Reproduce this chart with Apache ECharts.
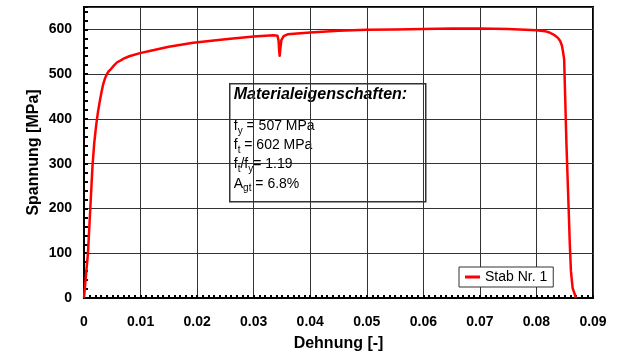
<!DOCTYPE html>
<html>
<head>
<meta charset="utf-8">
<script src="https://cdn.jsdelivr.net/npm/echarts@6/dist/echarts.min.js"></script>
<style>
  html, body { margin: 0; padding: 0; background: #fff; }
  #chart { width: 619px; height: 355px; }
</style>
</head>
<body>
<div id="chart"></div>
<script>
// Tensile test curve: strain [-] and stress [MPa]
const strain = [
  0, 0.0004, 0.0007, 0.0011, 0.0015, 0.0018, 0.0021, 0.0023, 0.0025, 0.0026,
  0.0028, 0.0031, 0.0034, 0.0037, 0.0039, 0.0041, 0.0044, 0.0048, 0.0052, 0.0058,
  0.0064, 0.0069, 0.0080, 0.0099, 0.012, 0.015, 0.0193, 0.025, 0.030, 0.0335,
  0.0342, 0.0344, 0.0345, 0.0346, 0.0347, 0.0349, 0.0353, 0.036, 0.040, 0.045,
  0.050, 0.055, 0.060, 0.065, 0.070, 0.075, 0.080, 0.0815, 0.0823, 0.0832,
  0.0838, 0.0842, 0.0845, 0.0847, 0.0849, 0.0853, 0.0857, 0.0859, 0.0861, 0.0864,
  0.0870
];
const stress = [
  0, 58, 100, 197, 294, 345, 380, 400, 418, 415,
  440, 460, 478, 490, 496, 501, 507, 512, 518, 526,
  530, 534, 540, 547, 553, 561, 570, 578, 584, 587,
  586, 575, 555, 541, 555, 576, 585, 589, 593, 597,
  599, 600, 601, 602, 602, 601, 598, 596, 593, 587,
  581, 574, 564, 550, 533, 346, 197, 120, 60, 22,
  0
];
const seriesName = 'Stab Nr. 1';

// Axis ticks
const xTicks = { min: 0, max: 0.09, step: 0.01, minorSplit: 10 };
const yTicks = { min: 0, max: 650, step: 100, minorStep: 20 };

// Material properties shown in the info box
const propTitle = 'Materialeigenschaften:';
const propLines = [
  '{n|f}{s|y}{n| = 507 MPa}',
  '{n|f}{s|t}{n| = 602 MPa}',
  '{n|f}{s|t}{n|/f}{s|y}{n|= 1.19}',
  '{n|A}{s|gt}{n| = 6.8%}'
];

const FONT = '"Liberation Sans", Arial, Helvetica, sans-serif';
const chart = echarts.init(document.getElementById('chart'), null, { renderer: 'canvas' });

const points = strain.map((x, i) => [x, stress[i]]);

chart.setOption({
  animation: false,
  backgroundColor: '#fff',
  textStyle: { fontFamily: FONT },
  grid: {
    left: 84, right: 26, top: 7, bottom: 57,
    containLabel: false, outerBoundsMode: 'none',
    show: true, borderColor: '#000', borderWidth: 2, backgroundColor: 'transparent'
  },
  legend: {
    left: 459, top: 267,
    padding: [3, 6, 3, 6],
    backgroundColor: '#fff',
    borderColor: '#333', borderWidth: 1, borderRadius: 0,
    icon: 'rect', itemWidth: 15, itemHeight: 3,
    textStyle: { fontFamily: FONT, fontSize: 14, color: '#000' },
    data: [seriesName]
  },
  xAxis: {
    type: 'value',
    min: xTicks.min, max: xTicks.max, interval: xTicks.step,
    name: 'Dehnung [-]', nameLocation: 'middle', nameGap: 38, nameMoveOverlap: false,
    nameTextStyle: { fontFamily: FONT, fontSize: 16, fontWeight: 'bold', color: '#000' },
    axisLine: { lineStyle: { color: '#000', width: 2 } },
    axisTick: { inside: true, length: 3, lineStyle: { color: '#000', width: 2 } },
    minorTick: { show: true, splitNumber: xTicks.minorSplit, length: 3, lineStyle: { color: '#000', width: 2 } },
    splitLine: { show: true, lineStyle: { color: '#333', width: 1 } },
    axisLabel: {
      margin: 17, fontFamily: FONT, fontSize: 14, fontWeight: 'bold', color: '#000',
      formatter: v => String(+v.toFixed(2))
    }
  },
  yAxis: [
    {
      type: 'value', position: 'left',
      min: yTicks.min, max: yTicks.max, interval: yTicks.step,
      name: 'Spannung [MPa]', nameLocation: 'middle', nameGap: 42, nameMoveOverlap: false,
      nameTextStyle: { fontFamily: FONT, fontSize: 16, fontWeight: 'bold', color: '#000' },
      axisLine: { show: true, lineStyle: { color: '#000', width: 2 } },
      axisTick: { show: false },
      splitLine: { show: true, lineStyle: { color: '#333', width: 1 } },
      axisLabel: {
        margin: 12, showMaxLabel: false,
        fontFamily: FONT, fontSize: 14, fontWeight: 'bold', color: '#000'
      }
    },
    {
      // tick-only axis for the 20 MPa marks
      type: 'value', position: 'left', offset: 0,
      min: yTicks.min, max: yTicks.max, interval: yTicks.minorStep,
      axisLine: { show: false },
      axisTick: { show: true, inside: true, length: 4, lineStyle: { color: '#000', width: 2 } },
      splitLine: { show: false },
      axisLabel: { show: false }
    }
  ],
  series: [{
    name: seriesName,
    type: 'line',
    yAxisIndex: 0,
    data: points,
    showSymbol: false,
    symbol: 'none',
    smooth: false,
    lineStyle: { color: '#ff0000', width: 2.5, join: 'round' },
    itemStyle: { color: '#ff0000' },
    z: 3
  }],
  graphic: [{
    type: 'group',
    left: 229, top: 83,
    z: 10,
    children: [
      {
        type: 'rect',
        shape: { x: 0, y: 0, width: 196, height: 118 },
        style: { fill: '#fff', stroke: '#333', lineWidth: 1.5 }
      },
      {
        type: 'text',
        x: 4, y: 11,
        style: {
          text: propTitle, fontFamily: FONT, fontSize: 16, fontWeight: 'bold', fontStyle: 'italic',
          fill: '#000', verticalAlign: 'middle', align: 'left'
        }
      },
      ...propLines.map((t, i) => ({
        type: 'text',
        x: 4, y: 42 + i * 19.3,
        style: {
          text: t, fill: '#000', verticalAlign: 'middle', align: 'left',
          fontFamily: FONT, fontSize: 14, fontWeight: 'normal', fontStyle: 'normal',
          rich: {
            n: { fontFamily: FONT, fontSize: 14, fontWeight: 'normal', fontStyle: 'normal', lineHeight: 20, verticalAlign: 'middle', fill: '#000' },
            s: { fontFamily: FONT, fontSize: 10, fontWeight: 'normal', fontStyle: 'normal', lineHeight: 20, verticalAlign: 'bottom', fill: '#000' }
          }
        }
      }))
    ]
  }]
});
</script>
</body>
</html>
